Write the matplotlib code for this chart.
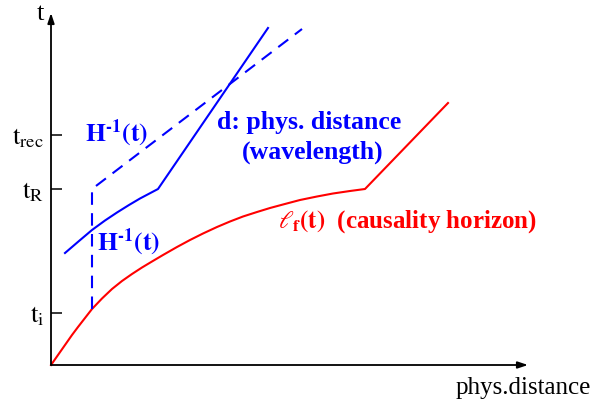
import matplotlib
matplotlib.use('Agg')
import matplotlib.pyplot as plt

plt.rcParams['font.family'] = ['Liberation Serif', 'DejaVu Serif']
plt.rcParams['mathtext.fontset'] = 'stix'

# causality horizon l_f(t): (distance, time)
lf_x = [0, 7, 14, 21, 27, 34, 41, 51, 61, 71, 81, 91, 101, 112, 126, 139, 152,
        166, 179, 192, 206, 219, 232, 249, 266, 282, 299, 314, 397]
lf_t = [0, 10, 20, 30, 38, 47, 56, 66.5, 76, 84, 91, 97.5, 103.5, 110, 118, 125, 131.5,
        138, 143.5, 148.5, 153, 157, 160.5, 165, 168.5, 171.5, 174, 176, 262]

# physical wavelength d(t)
d_x = [14, 28, 41, 54, 66, 78, 89, 107, 217]
d_t = [112, 124, 135, 144.5, 152.5, 160, 166.5, 176, 337]

# Hubble radius H^-1(t), dashed
h_x = [41, 41, 251]
h_t = [56, 176, 336]

tick_t = [52, 176, 230]
tick_labels = [r'$\mathrm{t_i}$', r'$\mathrm{t_R}$', r'$\mathrm{t_{rec}}$']

fig = plt.figure(figsize=(5.94, 4.05), dpi=100)
ax = fig.add_axes([51 / 594, 40 / 405, 477 / 594, 352 / 405])
ax.set_xlim(0, 477)
ax.set_ylim(0, 352)
for s in ax.spines.values():
    s.set_visible(False)

# axes with arrow heads
arrow = dict(arrowstyle='-|>,head_length=0.6,head_width=0.2', color='black', lw=1.3,
             shrinkA=0, shrinkB=0)
ax.annotate('', xy=(477, 0), xytext=(0, 0), arrowprops=arrow, annotation_clip=False)
ax.annotate('', xy=(0, 352), xytext=(0, 0), arrowprops=arrow, annotation_clip=False)

ax.set_xticks([])
ax.set_yticks(tick_t)
ax.set_yticklabels(tick_labels, fontsize=19)
ax.tick_params(axis='y', direction='in', length=8, width=1.1, pad=5)

ax.plot(lf_x, lf_t, color='red', lw=1.5, clip_on=False)
ax.plot(d_x, d_t, color='blue', lw=1.5, clip_on=False)
ax.plot(h_x, h_t, color='blue', lw=1.5, ls=(0, (6, 4)), clip_on=False)

ax.text(-11, 351, 't', fontsize=19, ha='center', va='center')
ax.text(472, -23, 'phys.distance', fontsize=18, ha='center', va='center')

hinv = r'$\mathbf{H^{' + '\u2010' + r'1}(t)}$'
blue_kw = dict(color='blue', fontsize=18.5, fontweight='bold', va='center')
ax.text(34, 232, hinv, **blue_kw)
ax.text(46, 123, hinv, **blue_kw)
ax.text(258, 243, 'd: phys. distance', ha='center', **blue_kw)
ax.text(262, 213, '(wavelength)', ha='center', **blue_kw)
ax.text(227, 143, r'$\ell_{\mathbf{f}}\mathbf{(t)}$  (causality horizon)',
        color='red', fontsize=18, fontweight='bold', va='center')

fig.savefig('out.png', dpi=100)
